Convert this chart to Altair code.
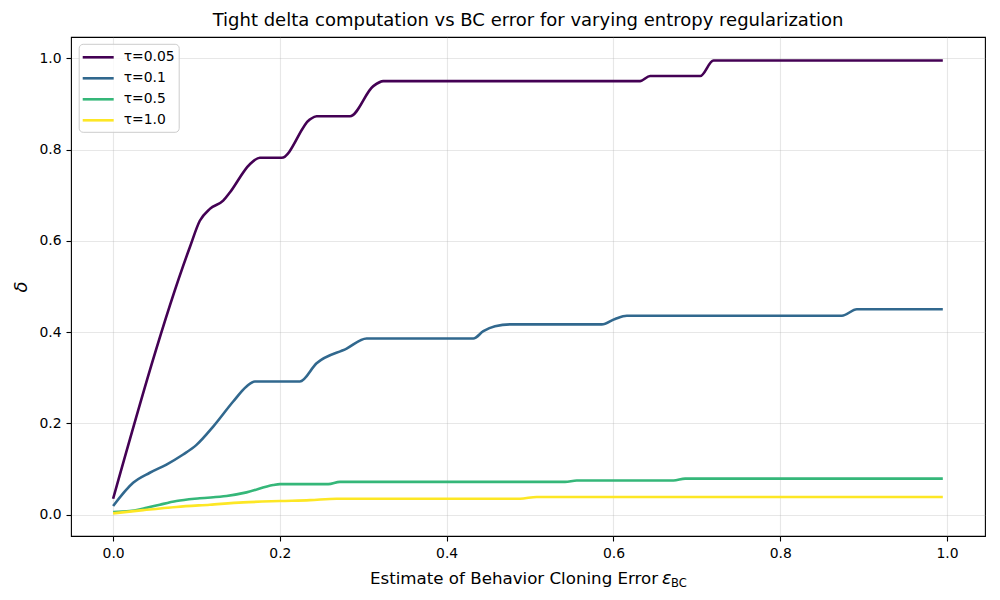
import altair as alt
import pandas as pd

labels = ["τ=0.05", "τ=0.1", "τ=0.5", "τ=1.0"]
colors = ["#440154", "#31688e", "#35b779", "#fde725"]

x_005 = [0, 0.092, 0.104, 0.116, 0.132, 0.140, 0.164, 0.176, 0.202, 0.236, 0.244, 0.284, 0.312, 0.324, 0.632, 0.644, 0.704, 0.720, 0.995]
y_005 = [0.035, 0.586, 0.644, 0.670, 0.688, 0.706, 0.768, 0.782, 0.782, 0.866, 0.873, 0.873, 0.939, 0.950, 0.950, 0.961, 0.961, 0.995, 0.995]

x_01 = [0, 0.024, 0.044, 0.064, 0.084, 0.100, 0.120, 0.144, 0.160, 0.170, 0.224, 0.244, 0.280, 0.304, 0.432, 0.444, 0.458, 0.476, 0.586, 0.602, 0.616, 0.874, 0.892, 0.995]
y_01 = [0.019, 0.070, 0.092, 0.110, 0.132, 0.153, 0.193, 0.248, 0.281, 0.292, 0.292, 0.332, 0.364, 0.386, 0.386, 0.402, 0.413, 0.417, 0.417, 0.429, 0.436, 0.436, 0.450, 0.450]

x_05 = [0, 0.020, 0.040, 0.056, 0.076, 0.104, 0.136, 0.160, 0.192, 0.200, 0.258, 0.272, 0.542, 0.556, 0.672, 0.686, 0.995]
y_05 = [0.006, 0.008, 0.015, 0.022, 0.030, 0.036, 0.041, 0.049, 0.065, 0.067, 0.067, 0.072, 0.072, 0.075, 0.075, 0.079, 0.079]

x_10 = [0, 0.036, 0.076, 0.116, 0.156, 0.200, 0.236, 0.268, 0.488, 0.508, 0.995]
y_10 = [0.003, 0.010, 0.017, 0.022, 0.027, 0.030, 0.032, 0.035, 0.035, 0.039, 0.039]

tick_vals = [0.0, 0.2, 0.4, 0.6, 0.8, 1.0]

rows = []
for lab, xs, ys in zip(labels, [x_005, x_01, x_05, x_10], [y_005, y_01, y_05, y_10]):
    for i, (a, b) in enumerate(zip(xs, ys)):
        rows.append({"series": lab, "x": a, "y": b, "order": i})
df = pd.DataFrame(rows)

FONT = "DejaVu Sans"

lines = alt.Chart(df).mark_line(strokeWidth=2.6, interpolate="monotone").encode(
    x=alt.X("x:Q", scale=alt.Scale(domain=[-0.0505, 1.0456], nice=False, zero=False),
            axis=alt.Axis(values=tick_vals, format=".1f", title=None)),
    y=alt.Y("y:Q", scale=alt.Scale(domain=[-0.0466, 1.0466], nice=False, zero=False),
            axis=alt.Axis(values=tick_vals, format=".1f", title="δ",
                          titleFontStyle="italic", titleFontSize=18, titleFontWeight="normal",
                          titlePadding=8)),
    color=alt.Color("series:N", sort=labels,
                    scale=alt.Scale(domain=labels, range=colors),
                    legend=alt.Legend(title=None, orient="none", legendX=7.7, legendY=6.8,
                                      symbolType="M-2,0H2", symbolSize=240,
                                      symbolStrokeWidth=2.6, symbolOffset=6,
                                      labelOffset=16, labelFontSize=13.9, labelFont=FONT,
                                      labelColor="black", rowPadding=4, padding=4,
                                      fillColor="rgba(255,255,255,0.8)", strokeColor="#cccccc",
                                      cornerRadius=4)),
    order="order:Q",
)

xt_main = alt.Chart(pd.DataFrame({"t": ["Estimate of Behavior Cloning Error"]})).mark_text(
    align="left", baseline="alphabetic", fontSize=16.67, font=FONT, color="black"
).encode(text="t:N", x=alt.value(299), y=alt.value(546.7))

xt_eps = alt.Chart(pd.DataFrame({"t": ["ε"]})).mark_text(
    align="left", baseline="alphabetic", fontSize=17.5, font=FONT, fontStyle="italic", color="black"
).encode(text="t:N", x=alt.value(591), y=alt.value(546.7))

xt_sub = alt.Chart(pd.DataFrame({"t": ["BC"]})).mark_text(
    align="left", baseline="alphabetic", fontSize=11.5, font=FONT, color="black"
).encode(text="t:N", x=alt.value(600), y=alt.value(549.5))

chart = alt.layer(lines, xt_main, xt_eps, xt_sub).properties(
    width=914, height=499,
    autosize=alt.AutoSizeParams(type="none"),
    padding={"left": 63, "top": 29, "right": 7, "bottom": 56},
    title=alt.Title("Tight delta computation vs BC error for varying entropy regularization",
                    fontSize=18, font=FONT, fontWeight="normal", color="black",
                    anchor="middle", frame="group", baseline="alphabetic", offset=-7),
).configure_view(
    stroke="black", strokeWidth=1.1
).configure_axis(
    labelFont=FONT, labelFontSize=13.9, labelColor="black",
    titleFont=FONT, titleColor="black",
    tickColor="black", tickSize=5, tickWidth=1.1,
    domain=False, grid=True, gridColor="#b0b0b0", gridOpacity=0.3, gridWidth=1.1,
    labelPadding=5,
)

chart.save("out.html", embed_options={"renderer": "svg", "actions": False})
